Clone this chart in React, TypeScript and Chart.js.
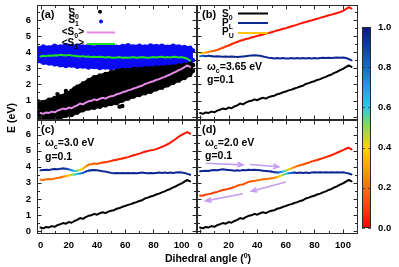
import React, { useEffect, useRef } from 'react';
import { Chart, registerables } from 'chart.js';
Chart.register(...registerables);

// ---------------- data ----------------
const angles = [0,2,4,6,8,10,12,14,16,18,20,22,24,26,28,30,32,34,36,38,40,42,44,46,48,50,52,54,56,58,60,62,64,66,68,70,72,74,76,78,80,82,84,86,88,90,92,94,96,98,100,102,104,106];

const s0Mean = [0.22,0.17,0.26,0.23,0.31,0.27,0.37,0.43,0.50,0.46,0.56,
  0.52,0.63,0.70,0.81,0.76,0.87,0.95,0.98,1.07,1.02,
  1.11,1.17,1.12,1.21,1.27,1.30,1.39,1.44,1.51,1.56,
  1.63,1.68,1.75,1.80,1.87,1.92,2.03,2.08,2.15,2.20,
  2.28,2.33,2.41,2.47,2.56,2.62,2.72,2.79,2.89,2.97,
  3.08,3.18,3.09];

const s1Mean = [3.74,3.78,3.76,3.80,3.78,3.82,3.80,3.84,3.82,3.80,3.84,
  3.80,3.78,3.76,3.74,3.76,3.72,3.74,3.70,3.72,3.70,
  3.72,3.70,3.68,3.70,3.68,3.66,3.68,3.70,3.66,3.68,
  3.66,3.68,3.70,3.66,3.68,3.70,3.68,3.66,3.68,3.70,
  3.68,3.70,3.72,3.68,3.70,3.68,3.72,3.70,3.68,3.70,
  3.66,3.60,3.48];

// scatter clouds of panel (a): envelopes
const cloudX = [-2,2,6,10,14,18,22,26,30,34,38,42,46,50,54,58,62,66,70,74,78,82,86,90,94,98,102,106,108];
const s1CloudUpper = [4.25,4.35,4.30,4.40,4.35,4.45,4.38,4.42,4.35,4.40,4.30,4.42,4.36,4.40,4.34,4.38,4.44,4.36,4.40,4.35,4.42,4.38,4.40,4.34,4.40,4.36,4.32,4.28,4.10];
const s1CloudLower = [3.45,3.35,3.30,3.25,3.20,3.15,3.18,3.10,3.12,3.05,3.08,3.02,3.06,3.00,3.04,3.02,3.06,3.00,3.04,3.05,3.08,3.10,3.12,3.15,3.18,3.20,3.25,3.35,3.50];
const s0CloudUpper = [0.95,0.90,1.05,1.15,1.25,1.40,1.60,1.85,2.05,2.25,2.45,2.55,2.65,2.75,2.85,2.90,2.90,2.95,2.95,3.00,3.00,3.05,3.05,3.10,3.12,3.18,3.22,3.30,3.20];
const s0CloudLower = [-0.2,-0.2,-0.15,-0.1,-0.05,0.05,0.10,0.25,0.40,0.50,0.55,0.62,0.70,0.78,0.85,1.00,1.12,1.25,1.35,1.45,1.55,1.70,1.80,1.95,2.10,2.25,2.40,2.60,2.85];
const s0OutlierX = [12,18,24,56,58];
const s0OutlierY = [1.40,1.60,1.75,0.62,0.66];

// panel (b), wc = 3.65 eV
const pLb = [3.76,3.78,3.76,3.78,3.76,3.74,3.76,3.74,3.72,3.74,3.72,
  3.74,3.72,3.70,3.72,3.74,3.76,3.78,3.80,3.82,3.80,
  3.78,3.74,3.70,3.66,3.64,3.62,3.64,3.62,3.64,3.62,
  3.62,3.64,3.62,3.64,3.62,3.64,3.62,3.64,3.62,3.64,
  3.62,3.64,3.66,3.64,3.66,3.64,3.66,3.68,3.66,3.68,
  3.64,3.58,3.50];
const pUb = [3.94,3.96,3.98,4.02,4.06,4.10,4.14,4.22,4.28,4.36,4.42,
  4.50,4.58,4.64,4.72,4.76,4.82,4.86,4.92,4.96,5.02,
  5.06,5.10,5.16,5.20,5.25,5.30,5.36,5.40,5.46,5.50,
  5.56,5.62,5.66,5.72,5.78,5.84,5.88,5.94,5.98,6.04,
  6.08,6.14,6.20,6.24,6.30,6.34,6.40,6.44,6.50,6.58,
  6.68,6.80,6.72];
const pLbFrac = [0.72,0.85,0.90,0.93,0.96,0.96,0.96,0.96,0.96,0.96,0.96,
  0.96,0.96,0.96,0.96,0.96,0.96,0.96,0.96,0.96,0.96,
  0.96,0.96,0.96,0.96,0.96,0.96,0.96,0.96,0.96,0.96,
  0.96,0.96,0.96,0.96,0.96,0.96,0.96,0.96,0.96,0.96,
  0.96,0.96,0.96,0.96,0.96,0.96,0.96,0.96,0.96,0.96,
  0.96,0.96,0.96];
const pUbFrac = [0.48,0.38,0.30,0.25,0.21,0.18,0.16,0.14,0.12,0.10,0.09,
  0.08,0.07,0.06,0.05,0.05,0.04,0.04,0.04,0.04,0.04,
  0.03,0.03,0.03,0.03,0.03,0.03,0.03,0.03,0.03,0.03,
  0.03,0.03,0.03,0.03,0.03,0.03,0.03,0.03,0.03,0.03,
  0.03,0.03,0.03,0.03,0.03,0.03,0.03,0.03,0.03,0.03,
  0.03,0.03,0.03];

// panel (c), wc = 3.0 eV
const pLc = [3.20,3.18,3.22,3.24,3.22,3.27,3.30,3.33,3.38,3.42,3.46,
  3.50,3.52,3.55,3.58,3.62,3.70,3.76,3.78,3.80,3.78,
  3.76,3.72,3.70,3.66,3.62,3.60,3.62,3.60,3.62,3.60,
  3.62,3.60,3.62,3.60,3.62,3.64,3.62,3.60,3.62,3.60,
  3.62,3.64,3.62,3.64,3.62,3.64,3.62,3.64,3.66,3.64,
  3.62,3.56,3.50];
const pUc = [3.78,3.80,3.82,3.80,3.84,3.86,3.84,3.88,3.90,3.88,3.84,
  3.78,3.74,3.76,3.80,3.88,4.02,4.12,4.16,4.20,4.18,
  4.22,4.26,4.28,4.32,4.36,4.40,4.44,4.48,4.52,4.56,
  4.60,4.66,4.72,4.76,4.82,4.88,4.94,4.98,5.02,5.05,
  5.10,5.16,5.24,5.32,5.40,5.50,5.62,5.74,5.88,5.98,
  6.08,6.16,6.06];
const pLcFrac = [0.20,0.20,0.20,0.20,0.20,0.20,0.20,0.20,0.22,0.28,0.35,
  0.45,0.55,0.62,0.70,0.80,0.88,0.92,0.96,0.96,0.96,
  0.96,0.96,0.96,0.96,0.96,0.96,0.96,0.96,0.96,0.96,
  0.96,0.96,0.96,0.96,0.96,0.96,0.96,0.96,0.96,0.96,
  0.96,0.96,0.96,0.96,0.96,0.96,0.96,0.96,0.96,0.96,
  0.96,0.96,0.96];
const pUcFrac = [0.96,0.96,0.96,0.96,0.96,0.96,0.96,0.96,0.96,0.92,0.85,
  0.75,0.65,0.55,0.45,0.36,0.28,0.22,0.20,0.18,0.16,
  0.14,0.12,0.11,0.10,0.09,0.08,0.08,0.07,0.07,0.06,
  0.06,0.06,0.05,0.05,0.05,0.05,0.04,0.04,0.04,0.04,
  0.04,0.04,0.03,0.03,0.03,0.03,0.03,0.03,0.03,0.03,
  0.03,0.03,0.03];

// panel (d), wc = 2.0 eV
const pLd = [2.22,2.20,2.27,2.30,2.34,2.40,2.44,2.50,2.56,2.58,2.64,
  2.68,2.74,2.82,2.88,2.90,2.98,3.06,3.10,3.12,3.16,
  3.18,3.22,3.24,3.26,3.28,3.32,3.36,3.42,3.50,3.56,
  3.60,3.62,3.64,3.62,3.64,3.62,3.64,3.62,3.64,3.66,
  3.64,3.66,3.64,3.66,3.64,3.66,3.64,3.66,3.64,3.66,
  3.62,3.58,3.52];
const pUd = [3.72,3.74,3.76,3.74,3.78,3.80,3.78,3.82,3.84,3.82,3.80,
  3.78,3.76,3.78,3.76,3.80,3.78,3.82,3.80,3.82,3.80,
  3.78,3.76,3.74,3.72,3.70,3.66,3.64,3.66,3.70,3.76,
  3.84,3.90,3.98,4.04,4.10,4.14,4.20,4.26,4.32,4.38,
  4.42,4.48,4.54,4.60,4.66,4.72,4.80,4.88,4.96,5.04,
  5.12,5.18,5.08];
const pLdFrac = [0.10,0.10,0.10,0.10,0.10,0.10,0.10,0.10,0.10,0.10,0.10,
  0.10,0.15,0.15,0.15,0.15,0.15,0.15,0.15,0.20,0.20,
  0.20,0.20,0.20,0.20,0.20,0.24,0.30,0.38,0.48,0.58,
  0.70,0.82,0.90,0.96,0.96,0.96,0.96,0.96,0.96,0.96,
  0.96,0.96,0.96,0.96,0.96,0.96,0.96,0.96,0.96,0.96,
  0.96,0.96,0.96];
const pUdFrac = [0.96,0.96,0.96,0.96,0.96,0.96,0.96,0.96,0.96,0.96,0.96,
  0.96,0.96,0.96,0.96,0.96,0.96,0.96,0.96,0.96,0.96,
  0.96,0.96,0.96,0.96,0.96,0.93,0.88,0.80,0.68,0.55,
  0.42,0.32,0.25,0.20,0.17,0.15,0.14,0.13,0.12,0.10,
  0.09,0.08,0.08,0.07,0.06,0.06,0.05,0.05,0.04,0.04,
  0.04,0.03,0.03];

// arrows in panel (d), data coordinates
const arrowFromX = [4, 35, 60, 30];
const arrowFromY = [4.22, 4.14, 3.05, 2.32];
const arrowToX = [30, 55, 36, 4];
const arrowToY = [4.12, 4.00, 2.48, 1.88];

// axes
const xTickValues = [0, 20, 40, 60, 80, 100];
const yTickValues = [0, 1, 2, 3, 4, 5, 6];
const xMarkValues = [0, 10, 20, 30, 40, 50, 60, 70, 80, 90, 100, 110];
const yMarkValues = [0, 0.5, 1, 1.5, 2, 2.5, 3, 3.5, 4, 4.5, 5, 5.5, 6, 6.5];
const colorbarTicks = [0, 0.2, 0.4, 0.6, 0.8, 1.0];
const colorStops: [number, string][] = [
  [0.0, '#ff0000'], [0.1, '#ff3c00'], [0.2, '#ff6e00'], [0.3, '#ffa200'],
  [0.4, '#f6d400'], [0.5, '#96d84a'], [0.6, '#22d0e0'], [0.7, '#1ea0ea'],
  [0.8, '#1866d6'], [0.9, '#123cae'], [1.0, '#0a1a80'],
];

// ---------------- helpers ----------------
const W = 399, H = 267;
const X_MIN = -2.5, X_MAX = 110.5, Y_MIN = -0.18, Y_MAX = 6.94;
const FAMILY = '"Liberation Sans", Arial, Helvetica, sans-serif';
const FRAME = '#2a2a2a';
const Y_AXIS_W = 30;
const X_AXIS_H = 20;

function hexToRgb(h: string) {
  return [parseInt(h.slice(1, 3), 16), parseInt(h.slice(3, 5), 16), parseInt(h.slice(5, 7), 16)];
}
function colorAt(f: number) {
  const v = Math.max(0, Math.min(1, f));
  for (let i = 0; i < colorStops.length - 1; i++) {
    const [a, ca] = colorStops[i];
    const [b, cb] = colorStops[i + 1];
    if (v >= a && v <= b) {
      const t = (v - a) / (b - a);
      const A = hexToRgb(ca), B = hexToRgb(cb);
      return `rgb(${Math.round(A[0] + (B[0] - A[0]) * t)},${Math.round(A[1] + (B[1] - A[1]) * t)},${Math.round(A[2] + (B[2] - A[2]) * t)})`;
    }
  }
  return colorStops[colorStops.length - 1][1];
}

type Part = [string, 'n' | 'sub' | 'sup'];
function drawRich(ctx: CanvasRenderingContext2D, parts: Part[], x: number, y: number, size: number, align: 'left' | 'right' | 'center' = 'left', color = '#000', family = FAMILY) {
  const fn = `bold ${size}px ${family}`;
  const fs = `bold ${Math.round(size * 0.7)}px ${family}`;
  let w = 0;
  parts.forEach(([t, k]) => { ctx.font = k === 'n' ? fn : fs; w += ctx.measureText(t).width; });
  let cx = align === 'right' ? x - w : align === 'center' ? x - w / 2 : x;
  ctx.textAlign = 'left';
  ctx.textBaseline = 'alphabetic';
  ctx.fillStyle = color;
  parts.forEach(([t, k]) => {
    ctx.font = k === 'n' ? fn : fs;
    const dy = k === 'sub' ? size * 0.32 : k === 'sup' ? -size * 0.42 : 0;
    ctx.fillText(t, cx, y + dy);
    cx += ctx.measureText(t).width;
  });
}

function lineDataset(vals: number[], color: string | null, fracs: number[] | null, order: number) {
  const ds: any = {
    data: angles.map((a, i) => ({ x: a, y: vals[i] })),
    borderWidth: 2,
    pointRadius: 0,
    tension: 0,
    order,
    borderCapStyle: 'round',
    borderJoinStyle: 'round',
    borderColor: color || colorAt(fracs ? fracs[0] : 0),
  };
  if (fracs) {
    ds.segment = { borderColor: (c: any) => colorAt((fracs[c.p0DataIndex] + fracs[c.p1DataIndex]) / 2) };
  }
  return ds;
}

function bandDataset(xs: number[], ys: number[], color: string, order: number, fillPrev: boolean) {
  return {
    data: xs.map((x, i) => ({ x, y: ys[i] })),
    borderColor: color,
    backgroundColor: color,
    borderWidth: 3,
    pointRadius: 2.3,
    pointBorderWidth: 0,
    pointBackgroundColor: color,
    tension: 0,
    order,
    fill: fillPrev ? '-1' : false,
  };
}

const framePlugin = {
  id: 'frame',
  afterDatasetsDraw(chart: any) {
    const { ctx, chartArea: a, scales: { x, y } } = chart;
    ctx.save();
    ctx.strokeStyle = FRAME;
    ctx.lineWidth = 1;
    const l = Math.round(a.left) + 0.5, r = Math.round(a.right) - 0.5;
    const t = Math.round(a.top) + 0.5, b = Math.round(a.bottom) - 0.5;
    ctx.strokeRect(l, t, r - l, b - t);
    ctx.beginPath();
    xMarkValues.forEach((v) => {
      const px = Math.round(x.getPixelForValue(v)) + 0.5;
      if (px < l || px > r) return;
      const len = v % 20 === 0 ? 4 : 2.5;
      ctx.moveTo(px, b); ctx.lineTo(px, b - len);
      ctx.moveTo(px, t); ctx.lineTo(px, t + len);
    });
    yMarkValues.forEach((v) => {
      const py = Math.round(y.getPixelForValue(v)) + 0.5;
      const len = v % 1 === 0 ? 4 : 2.5;
      ctx.moveTo(l, py); ctx.lineTo(l + len, py);
      ctx.moveTo(r, py); ctx.lineTo(r - len, py);
    });
    ctx.stroke();
    ctx.restore();
  },
};

const tickFont = { family: FAMILY, size: 9.5, weight: 'bold' as const };

function fixX(s: any) { s.height = X_AXIS_H; s.paddingLeft = 0; s.paddingRight = 0; s.paddingTop = 0; s.paddingBottom = 0; }
function fixY(s: any) { s.width = Y_AXIS_W; s.paddingLeft = 0; s.paddingRight = 0; s.paddingTop = 0; s.paddingBottom = 0; }

type Area = { left: number; top: number; right: number; bottom: number };
function panelConfig(area: Area, showX: boolean, showY: boolean, datasets: any[], decor: any): any {
  return {
    type: 'line',
    data: { datasets },
    options: {
      responsive: false,
      animation: false,
      events: [],
      layout: { padding: { left: area.left - Y_AXIS_W, top: area.top, right: W - area.right, bottom: H - area.bottom - X_AXIS_H } },
      plugins: { legend: { display: false }, tooltip: { enabled: false } },
      scales: {
        x: {
          type: 'linear', min: X_MIN, max: X_MAX,
          grid: { display: false, drawTicks: false }, border: { display: false },
          ticks: { display: showX, font: tickFont, color: '#000', padding: 6, maxRotation: 0, autoSkip: false },
          afterBuildTicks: (s: any) => { s.ticks = xTickValues.map((v) => ({ value: v })); },
          afterFit: fixX,
        },
        y: {
          type: 'linear', min: Y_MIN, max: Y_MAX,
          grid: { display: false, drawTicks: false }, border: { display: false },
          ticks: { display: showY, font: tickFont, color: '#000', padding: 6, autoSkip: false },
          afterBuildTicks: (s: any) => { s.ticks = yTickValues.map((v) => ({ value: v })); },
          afterFit: fixY,
        },
      },
    },
    plugins: [framePlugin, decor],
  };
}

// ---------------- panels ----------------
const AREA_A = { left: 37, top: 5, right: 196.5, bottom: 119.5 };
const AREA_B = { left: 196.5, top: 5, right: 358, bottom: 119.5 };
const AREA_C = { left: 37, top: 119.5, right: 196.5, bottom: 234 };
const AREA_D = { left: 196.5, top: 119.5, right: 358, bottom: 234 };

const S1_BLUE = '#0a0af5';
const PINK = '#e48ae6';
const GREEN = '#22e022';
const PL_BLUE = colorAt(0.96);
const PU_LEG = '#ffc400';
const ARROW = '#c59cf4';

const decorA = {
  id: 'decorA',
  afterDraw(chart: any) {
    const { ctx } = chart;
    ctx.save();
    drawRich(ctx, [['(a)', 'n']], 41, 18, 11);
    drawRich(ctx, [['S', 'n'], ['0', 'sub']], 79, 15.5, 10, 'right');
    drawRich(ctx, [['S', 'n'], ['1', 'sub']], 79, 23, 10, 'right');
    drawRich(ctx, [['<S', 'n'], ['0', 'sub'], ['>', 'n']], 84, 34.5, 10, 'right');
    drawRich(ctx, [['<S', 'n'], ['1', 'sub'], ['>', 'n']], 84, 45.5, 10, 'right');
    ctx.fillStyle = '#000';
    ctx.beginPath(); ctx.arc(100, 11.7, 2, 0, Math.PI * 2); ctx.fill();
    ctx.fillStyle = S1_BLUE;
    ctx.beginPath(); ctx.arc(101, 21.5, 2, 0, Math.PI * 2); ctx.fill();
    ctx.lineWidth = 2;
    ctx.strokeStyle = PINK;
    ctx.beginPath(); ctx.moveTo(87, 32.5); ctx.lineTo(115, 32.5); ctx.stroke();
    ctx.strokeStyle = GREEN;
    ctx.beginPath(); ctx.moveTo(87, 44); ctx.lineTo(115, 44); ctx.stroke();
    ctx.restore();
  },
};

const decorB = {
  id: 'decorB',
  afterDraw(chart: any) {
    const { ctx } = chart;
    ctx.save();
    drawRich(ctx, [['(b)', 'n']], 202, 18, 11);
    drawRich(ctx, [['S', 'n'], ['0', 'sub']], 222, 16.5, 10);
    drawRich(ctx, [['P', 'n'], ['L', 'sub']], 222, 25.5, 10);
    drawRich(ctx, [['P', 'n'], ['U', 'sub']], 222, 35, 10);
    ctx.lineWidth = 2;
    [['#000', 13.5], [PL_BLUE, 23], [PU_LEG, 33]].forEach(([c, yy]: any) => {
      ctx.strokeStyle = c;
      ctx.beginPath(); ctx.moveTo(238, yy); ctx.lineTo(268, yy); ctx.stroke();
    });
    drawRich(ctx, [['ω', 'n'], ['c', 'sub'], ['=3.65 eV', 'n']], 207, 69.5, 10.5);
    drawRich(ctx, [['g=0.1', 'n']], 207, 82.5, 10.5);
    ctx.restore();
  },
};

const decorC = {
  id: 'decorC',
  afterDraw(chart: any) {
    const { ctx } = chart;
    ctx.save();
    drawRich(ctx, [['(c)', 'n']], 41, 132.5, 11);
    drawRich(ctx, [['ω', 'n'], ['c', 'sub'], ['=3.0 eV', 'n']], 45, 146, 10.5);
    drawRich(ctx, [['g=0.1', 'n']], 45, 160, 10.5);
    // axis titles
    drawRich(ctx, [['Dihedral angle (', 'n'], ['0', 'sup'], [')', 'n']], 208, 262, 10.5, 'center');
    ctx.translate(15, 118);
    ctx.rotate(-Math.PI / 2);
    drawRich(ctx, [['E (eV)', 'n']], 0, 0, 10.5, 'center');
    ctx.restore();
  },
};

const decorD = {
  id: 'decorD',
  afterDatasetsDraw(chart: any) {
    const { ctx, scales: { x, y } } = chart;
    ctx.save();
    ctx.strokeStyle = ARROW;
    ctx.lineWidth = 1.6;
    arrowFromX.forEach((fx, i) => {
      const x0 = x.getPixelForValue(fx), y0 = y.getPixelForValue(arrowFromY[i]);
      const x1 = x.getPixelForValue(arrowToX[i]), y1 = y.getPixelForValue(arrowToY[i]);
      const ang = Math.atan2(y1 - y0, x1 - x0);
      ctx.beginPath(); ctx.moveTo(x0, y0); ctx.lineTo(x1, y1); ctx.stroke();
      ctx.beginPath();
      ctx.moveTo(x1 - 6 * Math.cos(ang - 0.4), y1 - 6 * Math.sin(ang - 0.4));
      ctx.lineTo(x1, y1);
      ctx.lineTo(x1 - 6 * Math.cos(ang + 0.4), y1 - 6 * Math.sin(ang + 0.4));
      ctx.stroke();
    });
    ctx.restore();
  },
  afterDraw(chart: any) {
    const { ctx } = chart;
    ctx.save();
    drawRich(ctx, [['(d)', 'n']], 202, 132.5, 11);
    drawRich(ctx, [['ω', 'n'], ['c', 'sub'], ['=2.0 eV', 'n']], 205, 145.5, 10.5);
    drawRich(ctx, [['g=0.1', 'n']], 205, 158.5, 10.5);
    ctx.restore();
  },
};

const colorbarPlugin = {
  id: 'colorbar',
  beforeDatasetsDraw(chart: any) {
    const { ctx, chartArea: a, scales: { y } } = chart;
    ctx.save();
    const g = ctx.createLinearGradient(0, a.bottom, 0, a.top);
    colorStops.forEach(([p, c]) => g.addColorStop(p, c));
    ctx.fillStyle = g;
    ctx.fillRect(a.left, a.top, a.right - a.left, a.bottom - a.top);
    ctx.strokeStyle = FRAME;
    ctx.lineWidth = 1;
    ctx.strokeRect(Math.round(a.left) + 0.5, Math.round(a.top) + 0.5, Math.round(a.right - a.left) - 1, Math.round(a.bottom - a.top) - 1);
    ctx.strokeStyle = 'rgba(40,40,40,0.7)';
    ctx.beginPath();
    colorbarTicks.forEach((v) => {
      const py = Math.round(y.getPixelForValue(v)) + 0.5;
      ctx.moveTo(a.left, py); ctx.lineTo(a.left + 3, py);
      ctx.moveTo(a.right, py); ctx.lineTo(a.right - 3, py);
    });
    ctx.stroke();
    ctx.restore();
  },
};

const BAR_AXIS_W = 26;

function buildConfigs(): any[] {
  const cfgA = panelConfig(AREA_A, false, true, [
    bandDataset(cloudX, s1CloudUpper, S1_BLUE, 7, false),
    bandDataset(cloudX, s1CloudLower, S1_BLUE, 6, true),
    bandDataset(cloudX, s0CloudUpper, '#000', 5, false),
    bandDataset(cloudX, s0CloudLower, '#000', 4, true),
    {
      data: s0OutlierX.map((x, i) => ({ x, y: s0OutlierY[i] })),
      showLine: false, pointRadius: 2.2, pointBorderWidth: 0, pointBackgroundColor: '#000', order: 3,
    },
    lineDataset(s1Mean, GREEN, null, 2),
    lineDataset(s0Mean, PINK, null, 1),
  ], decorA);
  const cfgB = panelConfig(AREA_B, false, false, [
    lineDataset(s0Mean, '#000', null, 3),
    lineDataset(pLb, null, pLbFrac, 2),
    lineDataset(pUb, null, pUbFrac, 1),
  ], decorB);
  const cfgC = panelConfig(AREA_C, true, true, [
    lineDataset(s0Mean, '#000', null, 3),
    lineDataset(pLc, null, pLcFrac, 2),
    lineDataset(pUc, null, pUcFrac, 1),
  ], decorC);
  const cfgD = panelConfig(AREA_D, true, false, [
    lineDataset(s0Mean, '#000', null, 3),
    lineDataset(pUd, null, pUdFrac, 2),
    lineDataset(pLd, null, pLdFrac, 1),
  ], decorD);
  const cfgBar: any = {
    type: 'line',
    data: { datasets: [] },
    options: {
      responsive: false,
      animation: false,
      events: [],
      layout: { padding: { left: 362, top: 27, right: W - 371 - BAR_AXIS_W, bottom: H - 228 } },
      plugins: { legend: { display: false }, tooltip: { enabled: false } },
      scales: {
        x: { type: 'linear', display: false, min: 0, max: 1 },
        y: {
          type: 'linear', position: 'right', min: 0, max: 1,
          grid: { display: false, drawTicks: false }, border: { display: false },
          ticks: { font: tickFont, color: '#000', padding: 7, callback: (v: any) => Number(v).toFixed(1) },
          afterBuildTicks: (s: any) => { s.ticks = colorbarTicks.map((v) => ({ value: v })); },
          afterFit: (s: any) => { s.width = BAR_AXIS_W; s.paddingTop = 0; s.paddingBottom = 0; s.paddingLeft = 0; s.paddingRight = 0; },
        },
      },
    },
    plugins: [colorbarPlugin],
  };
  return [cfgA, cfgB, cfgC, cfgD, cfgBar];
}

export default function App() {
  const refs = useRef<(HTMLCanvasElement | null)[]>([]);
  useEffect(() => {
    const cfgs = buildConfigs();
    const charts = cfgs.map((cfg, i) => new Chart(refs.current[i] as HTMLCanvasElement, cfg));
    return () => charts.forEach((c) => c.destroy());
  }, []);
  return (
    <div style={{ position: 'absolute', left: 0, top: 0, width: W, height: H, background: '#fff', overflow: 'hidden' }}>
      {[0, 1, 2, 3, 4].map((i) => (
        <canvas
          key={i}
          ref={(el) => { refs.current[i] = el; }}
          width={W}
          height={H}
          style={{ position: 'absolute', left: 0, top: 0, width: W, height: H }}
        />
      ))}
    </div>
  );
}
